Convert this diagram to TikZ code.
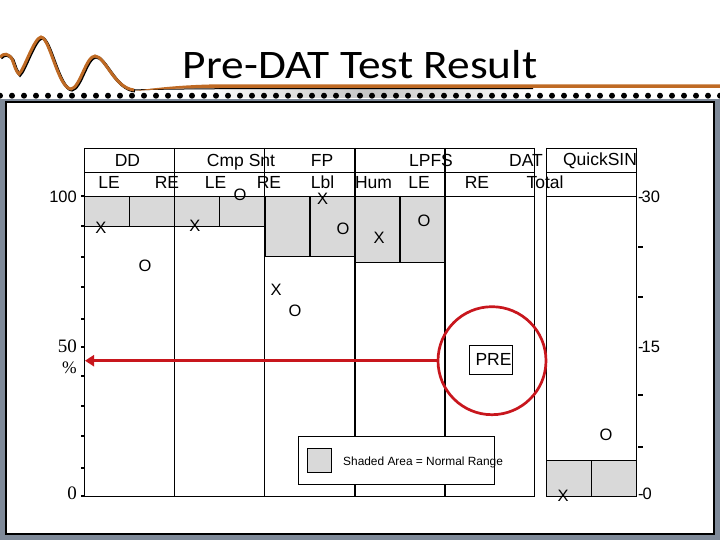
\documentclass[tikz,border=0pt]{standalone}
\usepackage{fontspec}
\setmainfont{Liberation Sans}
\newfontfamily\titlefont[FakeStretch=1.12]{Carlito}
\newfontfamily\serifnum{Liberation Serif}
\usepackage{xcolor}
\usetikzlibrary{arrows.meta}
\definecolor{framegray}{HTML}{7F8A99}
\definecolor{normalgray}{HTML}{D9D9D9}
\definecolor{wavebrown}{HTML}{BF6A24}
\definecolor{markred}{HTML}{C8161D}
\newcommand\wavepath{(0,57) .. controls (4,53) and (8,53) .. (12,59) .. controls (14,64) and (16,72) .. (19,74) .. controls (24,70) and (34,38) .. (41,37) .. controls (50,38) and (58,88) .. (71,89) .. controls (80,88) and (86,56) .. (95,56) .. controls (105,56) and (114,88) .. (134,90)}
\tikzstyle{lbl}=[inner sep=0pt,text height=12pt,text depth=0pt,font=\fontsize{17.5}{17.5}\selectfont]
\tikzstyle{sym}=[lbl,font=\fontsize{16.5}{16.5}\selectfont]
\tikzstyle{rule}=[line width=.9pt]
\tikzstyle{heavy}=[line width=1.5pt]
\tikzstyle{normalbox}=[fill=normalgray,draw=black,line width=.9pt]
\tikzstyle{redline}=[draw=markred,line width=2.7pt]
\begin{document}
\begin{tikzpicture}[x=1pt,y=-1pt]
	\useasboundingbox (0,0) rectangle (720,540);
	\fill[framegray] (0,99.5) rectangle (720,540);
	\fill[white] (0,0) rectangle (720,99.5);
	\fill[white,draw=black,line width=2pt] (6,102) rectangle (714,534);
	\shade[left color=white,right color=white,middle color=gray!45] (200,88.5) rectangle (533,98);
	\foreach \i in {0,...,60}
		\fill (\i*12,95.7) circle (3);
	\draw[line width=3pt,black,shift={(1,1)}] \wavepath;
	\draw[line width=1pt,black] (134,90) .. controls (160,89) and (190,89) .. (220,88.7) -- (533,88.7);
	\draw[line width=3pt,wavebrown] \wavepath;
	\fill[wavebrown] (134,91) .. controls (160,87) and (190,84.6) .. (220,84.3) -- (720,84.3) -- (720,88) -- (220,88) .. controls (190,88) and (160,89) .. (134,91);
	\node[anchor=base,inner sep=0pt] (title) at (360,79) {\titlefont\fontsize{40.5}{40.5}\selectfont Pre-DAT Test Result};
	\foreach \x/\y/\w/\h in {84.5/196/45/30,129.5/196/45/30,174.5/196/45/30,219.5/196/45/30,265/196/45/60,310/196/45/60,355/196/45/66,400/196/45/66,546.5/460/45/36,591.5/460/45/36}
		\draw[normalbox] (\x,\y) rectangle ++(\w,\h);
	\draw[rule] (84.5,148) -- (534.5,148) (84.5,172) -- (534.5,172) (84.5,196) -- (534.5,196) (84.5,496) -- (534.5,496);
	\draw[rule] (546.5,148) -- (636.5,148) (546.5,172) -- (636.5,172) (546.5,196) -- (636.5,196) (546.5,496) -- (636.5,496);
	\foreach \x in {84.5,174.5,264.5,534.5,546.5,636.5}
		\draw[rule] (\x,148) -- (\x,496);
	\draw[heavy] (355,148) -- (355,496);
	\draw[heavy] (445,148) -- (445,496);
	\draw[heavy] (310,196) -- (310,256) (400,196) -- (400,262) (265,196) -- (265,256);
	\foreach \y in {196,226,257,287,319,347,376,406,436,468,496}
		\draw[heavy] (81,\y) -- (85,\y);
	\foreach \y in {247,297,395,447}
		\draw[heavy] (638,\y) -- (643,\y);
	\node[lbl] (dd) at (127.5,161) {DD};
	\node[lbl] (cmp) at (241,161) {Cmp Snt};
	\node[lbl] (fp) at (322,161) {FP};
	\node[lbl] (lpfs) at (431,161) {LPFS};
	\node[lbl] (dat) at (526,161) {DAT};
	\node[lbl] (quick) at (600,160) {QuickSIN};
	\node[lbl] (ddle) at (109,183) {LE};
	\node[lbl] (ddre) at (167,183) {RE};
	\node[lbl] (cmple) at (215.5,183) {LE};
	\node[lbl] (cmpre) at (269,183) {RE};
	\node[lbl] (lbl) at (322.5,183) {Lbl};
	\node[lbl] (hum) at (373.5,183) {Hum};
	\node[lbl] (lpfsle) at (419,183) {LE};
	\node[lbl] (lpfsre) at (477,183) {RE};
	\node[lbl] (total) at (545,183) {Total};
	\node[sym] (o1) at (240,195) {O};
	\node[sym] (x1) at (322.5,199) {X};
	\node[sym] (x2) at (101,227.5) {X};
	\node[sym] (x3) at (195,226) {X};
	\node[sym] (o2) at (145,265) {O};
	\node[sym] (o3) at (343,229) {O};
	\node[sym] (x4) at (379,237.5) {X};
	\node[sym] (o4) at (424,220) {O};
	\node[sym] (x5) at (276,289) {X};
	\node[sym] (o5) at (295,310) {O};
	\node[sym] (o6) at (606,434) {O};
	\node[sym] (x6) at (563,495.5) {X};
	\node[sym,anchor=east] (hundred) at (77,197) {100};
	\node[lbl,anchor=east,font=\fontsize{19}{19}\selectfont] (fifty) at (77,346.7) {\serifnum 50};
	\node[lbl,anchor=east,font=\fontsize{17.5}{17.5}\selectfont] (pct) at (77,367.7) {\serifnum\%};
	\node[lbl,anchor=east,font=\fontsize{19}{19}\selectfont] (zero) at (77,493.5) {\serifnum 0};
	\node[sym,anchor=west] (thirty) at (638,197) {-\kern-2pt 30};
	\node[sym,anchor=west] (fifteen) at (638,346.7) {-\kern-2pt 15};
	\node[sym,anchor=west] (nil) at (638,493.5) {-\kern-1pt 0};
	\node[draw,fill=white,rule,minimum width=196,minimum height=48] (legend) at (396.5,460) {};
	\node[draw,fill=normalgray,rule,minimum width=24.5,minimum height=24.5] (swatch) at (319.3,460.3) {};
	\node[inner sep=0pt,anchor=west,text height=8.5pt,text depth=0pt,font=\fontsize{11.9}{11.9}\selectfont] (legendtext) at (343,461) {Shaded Area = Normal Range};
	\node[draw,rule,minimum width=43,minimum height=29,inner sep=0pt,font=\fontsize{17.5}{17.5}\selectfont] (pre) at (490.5,359.5) {\kern6pt PRE};
	\node[circle,redline,minimum size=108,inner sep=0pt] (ring) at (492,360.7) {};
	\coordinate (axis) at (85,360.7);
	\draw[redline,line width=3.5pt,-{Triangle[length=9pt,width=11pt]}] (ring) -- (axis);
\end{tikzpicture}
\end{document}
